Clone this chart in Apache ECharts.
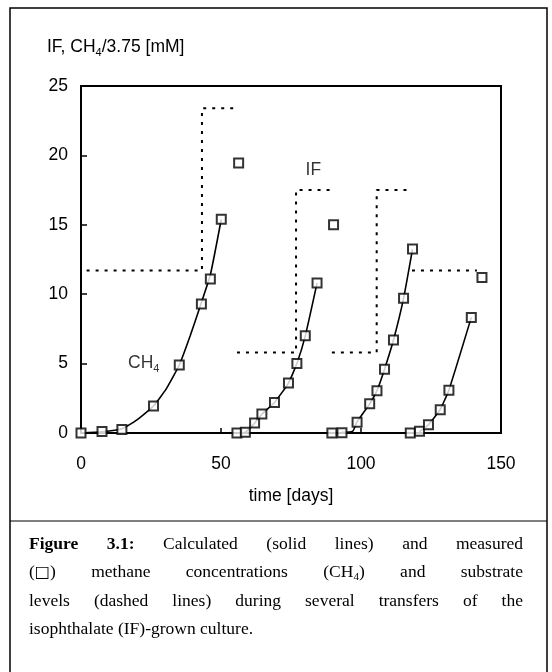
<!DOCTYPE html>
<html>
<head>
<meta charset="utf-8">
<script src="https://cdn.jsdelivr.net/npm/echarts@6/dist/echarts.min.js"></script>
<style>
  html, body { margin: 0; padding: 0; background: #fff; }
  #chart { position: absolute; left: 0; top: 0; width: 552px; height: 672px; }
  #cap { position: absolute; left: 29px; top: 529px; width: 494px;
         font-family: 'Liberation Serif', 'Times New Roman', serif; font-size: 17.5px;
         line-height: 28px; color: #000; }
  #cap .j { text-align: justify; text-align-last: justify; }
  #cap sub { font-size: 11px; line-height: 0; vertical-align: -3px; }
  #cap .nb { display: inline-block; white-space: nowrap; text-align: left; text-align-last: left; }
  #cap .sq { font-family: 'DejaVu Sans', sans-serif; font-size: 16px; font-weight: bold; }
</style>
</head>
<body>
<div id="chart"></div>
<div id="cap">
  <div class="j"><b>Figure 3.1:</b> Calculated (solid lines) and measured</div>
  <div class="j"><span class="nb">(<span class="sq">□</span>)</span> methane concentrations (CH<sub>4</sub>) and substrate</div>
  <div class="j">levels (dashed lines) during several transfers of the</div>
  <div>isophthalate (IF)-grown culture.</div>
</div>
<script>
// ---- data ----
const xTicks = [0, 50, 100, 150];
const yTicks = [0, 5, 10, 15, 20, 25];

// measured methane (days, CH4/3.75 mM)
const measured1 = [[0,0],[7.5,0.1],[14.6,0.25],[25.9,1.95],[35.1,4.9],[43.0,9.3],[46.2,11.1],[50.1,15.4],[56.3,19.45]];
const measured2 = [[55.7,0],[58.7,0.05],[62.0,0.72],[64.6,1.37],[69.1,2.2],[74.1,3.6],[77.1,5.0],[80.1,7.0],[84.3,10.8],[90.2,15.0]];
const measured3 = [[89.6,0],[93.2,0.02],[98.6,0.77],[103.1,2.1],[105.7,3.05],[108.4,4.6],[111.6,6.7],[115.2,9.7],[118.4,13.25],[143.2,11.2]];
const measured4 = [[117.6,0],[120.9,0.12],[124.1,0.6],[128.3,1.68],[131.4,3.08],[139.4,8.33]];

// calculated methane (solid lines)
const calc1 = [[0,0],[7.5,0.08],[14.6,0.3],[20,0.95],[25.9,1.95],[30.5,3.2],[35.1,4.9],[39,7.0],[43.0,9.4],[46.2,11.4],[50.1,15.4]];
const calc2 = [[57.5,0.02],[58.7,0.05],[62.0,0.7],[64.6,1.35],[69.1,2.2],[74.1,3.6],[77.1,5.0],[80.1,7.0],[84.3,10.8]];
const calc3 = [[93.2,0.05],[97.0,0.12],[98.6,0.8],[103.1,2.1],[105.7,3.05],[108.4,4.6],[111.6,6.7],[115.2,9.7],[118.4,13.25]];
const calc4 = [[120.9,0.1],[124.1,0.6],[128.3,1.7],[131.4,3.1],[139.4,8.33]];

// substrate (IF) levels, dashed steps
const substrate1 = [[2,11.7],[43.2,11.7],[43.2,23.4],[56.3,23.4]];
const substrate2 = [[55.7,5.8],[76.8,5.8],[76.8,17.5],[90.8,17.5]];
const substrate3 = [[89.6,5.8],[105.6,5.8],[105.6,17.5],[117.6,17.5]];
const substrate4 = [[118.2,11.7],[141.4,11.7]];

// in-plot annotations
const annotations = [
  { text: 'IF', at: [83, 18.9] },
  { text: 'CH4', at: [22.4, 5.0] }
];

// ---- chart ----
const FONT = "'Liberation Sans', Arial, sans-serif";
const FS = 17.5;
const chart = echarts.init(document.getElementById('chart'), null, { renderer: 'canvas' });

const lineSeries = (d) => ({
  type: 'line', data: d, symbol: 'none', smooth: 0.15, silent: true, z: 3,
  lineStyle: { color: '#000', width: 1.6 }
});
const dashSeries = (d) => ({
  type: 'line', data: d, symbol: 'none', silent: true, z: 2,
  lineStyle: { color: '#000', width: 2, type: [3, 6] }
});
const markSeries = (d) => ({
  type: 'scatter', data: d, symbol: 'rect', symbolSize: 9, silent: true, z: 5,
  itemStyle: { color: '#fff', borderColor: '#000', borderWidth: 2 }
});

const option = {
  animation: false,
  backgroundColor: '#fff',
  grid: { left: 81, right: 51, top: 86, bottom: 239, show: true, borderColor: '#000', borderWidth: 2, backgroundColor: 'transparent' },
  xAxis: {
    type: 'value', min: xTicks[0], max: xTicks[xTicks.length - 1], interval: 50,
    name: 'time [days]', nameLocation: 'middle', nameGap: 54,
    nameTextStyle: { fontFamily: FONT, fontSize: FS, color: '#000' },
    axisLine: { show: true, lineStyle: { color: '#000', width: 2 } },
    axisTick: { show: true, inside: true, length: 5, lineStyle: { color: '#000', width: 1.5 } },
    axisLabel: { margin: 22, fontFamily: FONT, fontSize: FS, color: '#000' },
    splitLine: { show: false }
  },
  yAxis: {
    type: 'value', min: yTicks[0], max: yTicks[yTicks.length - 1], interval: 5,
    axisLine: { show: true, lineStyle: { color: '#000', width: 2 } },
    axisTick: { show: true, inside: true, length: 6, lineStyle: { color: '#000', width: 1.5 } },
    axisLabel: { margin: 13, fontFamily: FONT, fontSize: FS, color: '#000' },
    splitLine: { show: false }
  },
  graphic: [
    { type: 'rect', shape: { x: 10, y: 8, width: 537, height: 700 }, style: { fill: 'none', stroke: '#000', lineWidth: 1.5 }, silent: true },
    { type: 'line', shape: { x1: 10, y1: 521, x2: 547, y2: 521 }, style: { stroke: '#000', lineWidth: 1.2 }, silent: true },
    { type: 'text', left: 47, top: 38, silent: true,
      style: {
        text: '{a|IF, CH}{s|4}{a|/3.75 [mM]}',
        rich: {
          a: { fontFamily: FONT, fontSize: FS, color: '#000', lineHeight: 22, verticalAlign: 'middle' },
          s: { fontFamily: FONT, fontSize: 11, color: '#000', lineHeight: 22, verticalAlign: 'bottom' }
        }
      }
    }
  ],
  series: [
    dashSeries(substrate1), dashSeries(substrate2), dashSeries(substrate3), dashSeries(substrate4),
    lineSeries(calc1), lineSeries(calc2), lineSeries(calc3), lineSeries(calc4),
    markSeries(measured1), markSeries(measured2), markSeries(measured3), markSeries(measured4),
    {
      type: 'scatter', symbolSize: 0, silent: true, z: 6,
      data: annotations.map(a => ({ value: a.at, name: a.text })),
      label: {
        show: true, position: 'inside',
        formatter: (p) => p.name === 'CH4' ? '{a|CH}{s|4}' : '{a|' + p.name + '}',
        rich: {
          a: { fontFamily: FONT, fontSize: FS, color: '#000', lineHeight: 22, verticalAlign: 'middle' },
          s: { fontFamily: FONT, fontSize: 11, color: '#000', lineHeight: 22, verticalAlign: 'bottom' }
        }
      }
    }
  ]
};
chart.setOption(option);
</script>
</body>
</html>
